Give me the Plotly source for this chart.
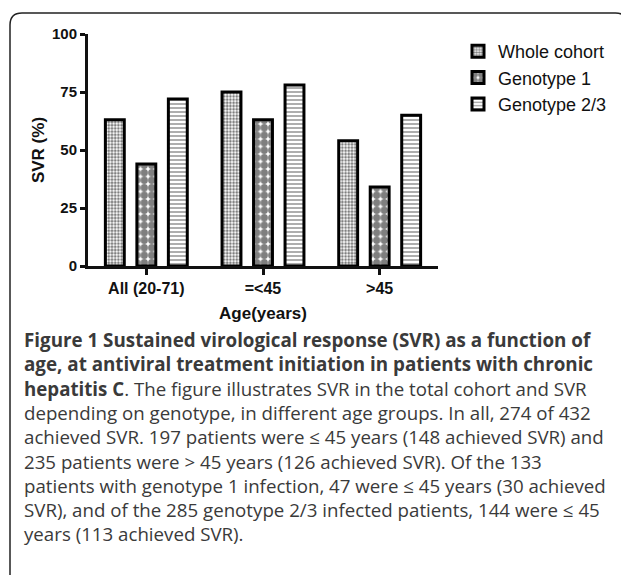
import plotly.graph_objects as go

categories = ["All (20-71)", "=<45", ">45"]
series_names = ["Whole cohort", "Genotype 1", "Genotype 2/3"]
whole_cohort = [63, 75, 54]
genotype_1 = [44, 63, 34]
genotype_23 = [72, 78, 65]
y_ticks = [0, 25, 50, 75, 100]

caption_lines = [
    "<b>Figure 1 Sustained virological response (SVR) as a function of</b>",
    "<b>age, at antiviral treatment initiation in patients with chronic</b>",
    "<b>hepatitis C</b>. The figure illustrates SVR in the total cohort and SVR",
    "depending on genotype, in different age groups. In all, 274 of 432",
    "achieved SVR. 197 patients were ≤ 45 years (148 achieved SVR) and",
    "235 patients were &gt; 45 years (126 achieved SVR). Of the 133",
    "patients with genotype 1 infection, 47 were ≤ 45 years (30 achieved",
    "SVR), and of the 285 genotype 2/3 infected patients, 144 were ≤ 45",
    "years (113 achieved SVR).",
]
caption_sizes = [18.8, 18.8, 18.7, 18.7, 18.7, 18.7, 18.7, 18.7, 18.7]

# the page body has an 8px margin; figure is sized/positioned to compensate
OFF = 8
W, H = 629 - OFF, 575 - OFF
L, T = 88 - OFF, 34 - OFF
PW, PH = 350, 232
R, B = W - L - PW, H - T - PH


def px_x(ref_px):
    return (ref_px - OFF - L) / PW


def px_y(ref_py):
    return (T + PH - (ref_py - OFF)) / PH


CHART_FONT = "Liberation Sans, Arial, sans-serif"
CAP_FONT = "Open Sans, sans-serif"

patterns = [
    dict(shape=".", size=3.2, solidity=0.55, fgcolor="#000", bgcolor="#fff", fillmode="overlay"),
    dict(shape=".", size=7.5, solidity=0.75, fgcolor="#000", bgcolor="#fff", fillmode="overlay"),
    dict(shape="-", size=4, solidity=0.4, fgcolor="#333", bgcolor="#fff", fillmode="overlay"),
]

fig = go.Figure()
for name, vals, pat in zip(series_names, [whole_cohort, genotype_1, genotype_23], patterns):
    fig.add_trace(go.Bar(
        x=categories, y=vals, name=name,
        marker=dict(color="#fff", line=dict(color="#000", width=3), pattern=pat),
    ))

fig.update_layout(
    width=W, height=H,
    margin=dict(l=L, r=R, t=T, b=B, pad=0),
    paper_bgcolor="#fff", plot_bgcolor="#fff",
    barmode="group", bargap=0.19, bargroupgap=0.4,
    showlegend=True,
    legend=dict(
        x=px_x(458), y=px_y(33), xanchor="left", yanchor="top",
        font=dict(family=CHART_FONT, size=18, color="#111"),
        bgcolor="rgba(0,0,0,0)", tracegroupgap=5, itemwidth=30,
    ),
    font=dict(family=CHART_FONT, color="#111"),
)

fig.update_xaxes(
    type="category", range=[-0.5, 2.5],
    showline=True, linecolor="#111", linewidth=3,
    ticks="outside", ticklen=6, tickwidth=2.5, tickcolor="#111",
    tickfont=dict(family=CHART_FONT, size=16, color="#111", weight="bold"),
    title=dict(text="<b>Age(years)</b>", font=dict(family=CHART_FONT, size=17, color="#111"), standoff=11),
    showgrid=False, zeroline=False, fixedrange=True,
)
fig.update_yaxes(
    range=[0, 100], tickvals=y_ticks, ticktext=[str(v) for v in y_ticks],
    showline=True, linecolor="#111", linewidth=3,
    ticks="outside", ticklen=5, tickwidth=2.5, tickcolor="#111",
    tickfont=dict(family=CHART_FONT, size=15, color="#111", weight="bold"),
    title=dict(text="<b>SVR (%)</b>", font=dict(family=CHART_FONT, size=17, color="#111"), standoff=4),
    showgrid=False, zeroline=False, fixedrange=True,
)

# rounded border box
x0, x1, y0, y1, r = 10, 627.5, 13, 590, 12
path = (f"M {px_x(x0)},{px_y(y1)} L {px_x(x0)},{px_y(y0 + r)} "
        f"Q {px_x(x0)},{px_y(y0)} {px_x(x0 + r)},{px_y(y0)} "
        f"L {px_x(x1 - r)},{px_y(y0)} Q {px_x(x1)},{px_y(y0)} {px_x(x1)},{px_y(y0 + r)} "
        f"L {px_x(x1)},{px_y(y1)}")
fig.add_shape(type="path", path=path, xref="paper", yref="paper",
              line=dict(color="#222", width=1.5), layer="below")

# caption
y_first, step = 340, 24.2
for i, (line, sz) in enumerate(zip(caption_lines, caption_sizes)):
    fig.add_annotation(
        text=line, x=px_x(22), y=px_y(y_first + i * step),
        xref="paper", yref="paper", xanchor="left", yanchor="middle",
        showarrow=False, align="left",
        font=dict(family=CAP_FONT, size=sz, color="#3a3a3a"),
    )

fig.write_html("out.html")
